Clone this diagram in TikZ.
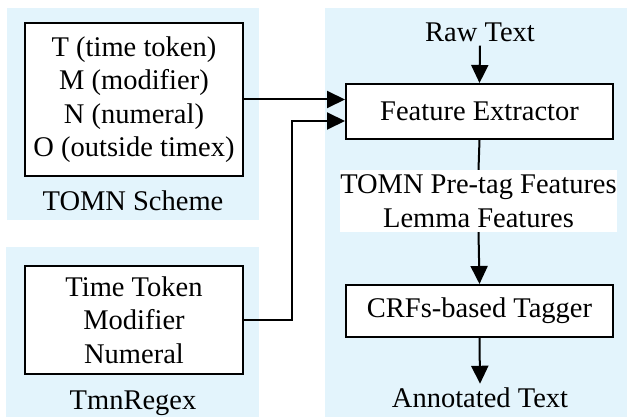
\documentclass[tikz,border=0pt]{standalone}
\usepackage{fontspec}
\setmainfont{Liberation Serif}
\newfontfamily\tnr{Liberation Serif}
\usetikzlibrary{arrows.meta,calc}
\definecolor{panelblue}{RGB}{227,244,252}
\begin{document}
\begin{tikzpicture}[x=1pt,y=-1pt,
  panel/.style={fill=panelblue,draw=none},
  stagebox/.style={draw,line width=2pt,fill=white,align=center,inner sep=0pt},
  plain/.style={align=center,inner sep=1pt},
  conn/.style={line width=2pt},
  arr/.style={conn,-{Triangle[length=18pt,width=17pt]}},
  every node/.style={font=\tnr\fontsize{28.5}{33.5}\selectfont}]
\useasboundingbox (0,0) rectangle (630,417);
\fill[panelblue] (7,8) rectangle (259,220);
\fill[panelblue] (6,247) rectangle (259,417);
\fill[panelblue] (325,8) rectangle (627,417);

\node[stagebox,minimum width=218pt,minimum height=153pt] (box1) at (134,99.5)
  {T (time token)\\M (modifier)\\N (numeral)\\O (outside timex)};
\node[plain] (lab1) at (133,201) {TOMN Scheme};

\node[stagebox,minimum width=218pt,minimum height=108pt] (box2) at (134,320)
  {Time Token\\Modifier\\Numeral};
\node[plain] (lab2) at (133,403) {TmnRegex};

\node[plain,inner sep=0pt] (raw) at (480,32) {Raw Text};
\node[stagebox,minimum width=267pt,minimum height=55pt] (fe) at (479.5,111.5) {Feature Extractor};
\node[fill=white,align=center,inner sep=0pt,minimum width=249pt,minimum height=62pt] (feat) at (478.5,201)
  {TOMN Pre-tag Features\\Lemma Features};
\node[stagebox,minimum width=267pt,minimum height=52pt] (crf) at (479.5,311) {CRFs-based Tagger};
\node[plain,inner sep=0pt] (ann) at (480,398) {Annotated Text};

\coordinate (in2) at ($(fe.west)+(0,9.5)$);

\draw[arr] (raw.south) ++(0,4) -- (fe.north);
\draw[arr] (box1.east) -- (box1.east -| fe.west);
\draw[arr] (box2.east) -- ++(48,0) |- (in2);
\draw[conn] (fe.south) -- (feat.north);
\draw[arr] (feat.south) -- (crf.north);
\draw[arr] (crf.south) -- ($(ann.north)+(0,-4)$);
\end{tikzpicture}
\end{document}
